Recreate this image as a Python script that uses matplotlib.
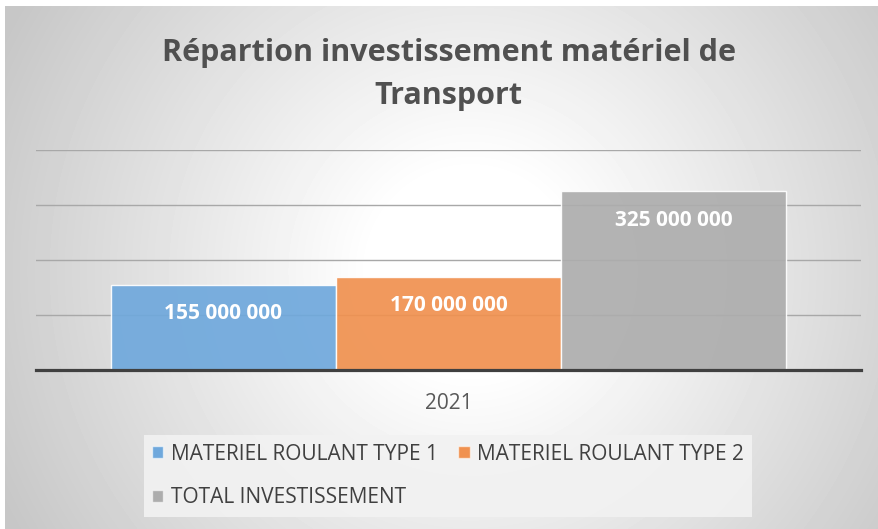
import matplotlib.pyplot as plt
import numpy as np
from matplotlib.patches import Patch

# data
categories = ["2021"]
series_names = ["MATERIEL ROULANT TYPE 1", "MATERIEL ROULANT TYPE 2", "TOTAL INVESTISSEMENT"]
series_values = [155000000, 170000000, 325000000]
value_labels = ["155 000 000", "170 000 000", "325 000 000"]
colors = ["#6fa8dc", "#f0914f", "#adadad"]

W, H = 879, 529
fig = plt.figure(figsize=(W / 100, H / 100), dpi=100, facecolor="white")

# radial gradient background of the chart area
bg = fig.add_axes([5 / W, 0, (W - 5) / W, (H - 6) / H], zorder=-10)
yy, xx = np.mgrid[0:H - 6, 0:W - 5]
d = np.hypot(xx - 465, yy - 265)
g = 1 - 0.22 * np.clip((d - 100) / 420, 0, 1)
bg.imshow(g, cmap="gray", vmin=0, vmax=1, aspect="auto", interpolation="bilinear")
bg.axis("off")

ax = fig.add_axes([36 / W, 159 / H, 825 / W, 220 / H])
ax.set_facecolor("none")

w = 225 / 825
x0 = np.arange(len(categories))
offsets = [-w, 0, w]
for i, (name, val) in enumerate(zip(series_names, series_values)):
    bars = ax.bar(x0 + offsets[i], [val], width=w, color=colors[i], alpha=0.92,
                  edgecolor=(1, 1, 1, 0.6), linewidth=1, zorder=2, label=name)
    for b in bars:
        ax.annotate(value_labels[i], (b.get_x() + b.get_width() / 2, b.get_height()),
                    xytext=(0, -29), textcoords="offset pixels", ha="center", va="center",
                    color="white", fontsize=15, fontweight="bold", family="Open Sans", zorder=3)

ax.set_xlim(-0.5, 0.5)
ax.set_ylim(0, 400000000)
ax.set_yticks([100000000, 200000000, 300000000, 400000000])
ax.yaxis.grid(True, color="#a8a8a8", linewidth=1)
ax.set_axisbelow(True)
ax.tick_params(axis="y", left=False, labelleft=False)
ax.tick_params(axis="x", bottom=False, pad=13)
ax.set_xticks(x0)
ax.set_xticklabels(categories, fontsize=15, color="#595959", family="Open Sans")
for s in ["top", "left", "right"]:
    ax.spines[s].set_visible(False)
ax.spines["bottom"].set_color("#404040")
ax.spines["bottom"].set_linewidth(2.3)
ax.spines["bottom"].set_zorder(4)

fig.text(448.5 / W, 1 - 53 / H, "Répartion investissement matériel de", ha="center", va="center",
         fontsize=22, fontweight="bold", color="#505050", family="Open Sans")
fig.text(448.5 / W, 1 - 96 / H, "Transport", ha="center", va="center",
         fontsize=22, fontweight="bold", color="#505050", family="Open Sans")

handles = [Patch(facecolor=colors[0], edgecolor=(1, 1, 1, 0.6)),
           Patch(facecolor=colors[2], edgecolor=(1, 1, 1, 0.6)),
           Patch(facecolor=colors[1], edgecolor=(1, 1, 1, 0.6))]
labels = [series_names[0], series_names[2], series_names[1]]
leg = fig.legend(handles, labels, ncol=2, loc="center", bbox_to_anchor=(448 / W, 1 - 476 / H),
                 frameon=True, fancybox=False, facecolor="#f2f2f2", edgecolor="none",
                 framealpha=0.9, prop={"family": "Open Sans", "size": 15},
                 labelcolor="#404040", handlelength=0.55, handleheight=0.55,
                 handletextpad=0.35, columnspacing=1.0, labelspacing=1.1, borderpad=0.4)

fig.savefig("out.png", dpi=100)
